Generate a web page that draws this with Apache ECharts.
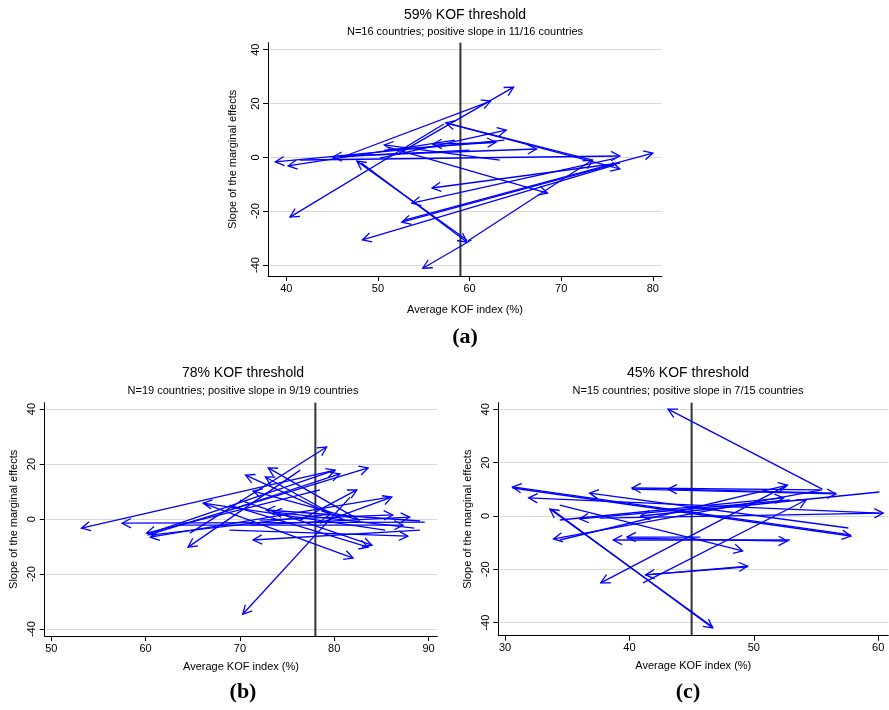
<!DOCTYPE html>
<html><head><meta charset="utf-8">
<script src="https://cdn.jsdelivr.net/npm/echarts@6/dist/echarts.min.js"></script>
<style>html,body{margin:0;padding:0;background:#fff}#c{width:889px;height:710px}</style>
</head><body><div id="c"></div>
<script>
// ---- data ----
const thresholds = [59, 78, 45];
const titles = ['59% KOF threshold', '78% KOF threshold', '45% KOF threshold'];
const subtitles = ['N=16 countries; positive slope in 11/16 countries',
                   'N=19 countries; positive slope in 9/19 countries',
                   'N=15 countries; positive slope in 7/15 countries'];
const panelLabels = ['(a)', '(b)', '(c)'];
const xTicksA = [40, 50, 60, 70, 80];
const xTicksB = [50, 60, 70, 80, 90];
const xTicksC = [30, 40, 50, 60];
const yTicks = [-40, -20, 0, 20, 40];
// arrows: [x start, y start, x end, y end]
const arrowsA = [
  [52.15, 1.2, 64.8, 26.1], [46.4, 0.5, 62.3, 20.9], [50.2, -0.3, 64.0, 10.1],
  [50.7, 2.7, 62.9, 5.7], [45.8, 0.5, 67.3, 3.1], [41.5, -1.0, 76.4, 0.5],
  [52.9, -23.3, 80.0, 1.6], [57.8, 12.4, 76.4, -4.3], [59.8, -31.1, 73.4, -1.0],
  [51.1, 3.8, 68.5, -13.3], [48.2, -2.1, 59.7, -31.5], [60.2, -30.7, 54.9, -41.2],
  [75.8, -2.9, 48.3, -30.7], [76.4, -2.1, 52.6, -24.1], [76.0, -0.3, 53.7, -17.0],
  [76.4, -2.1, 55.9, -11.4], [57.2, 12.4, 40.4, -22.2], [63.8, 6.4, 38.8, -1.7],
  [58.4, 6.4, 40.2, -3.2], [60.0, 2.7, 45.1, 0.1], [59.7, -30.7, 47.7, -1.4],
  [63.3, -1.0, 50.7, 4.6], [62.5, 5.5, 56.0, 4.9], [73.4, -1.0, 57.4, 12.8]
];
const arrowsB = [
  [80.1, 17.8, 53.2, -3.3], [89.6, -1.1, 57.5, -1.5], [78.5, 10.6, 60.1, -5.1],
  [85.9, 8.0, 60.5, -6.6], [76.4, 17.8, 64.5, -10.2], [64.7, -5.1, 79.2, 26.2],
  [81.7, 8.0, 70.3, -34.6], [66.3, 5.5, 82.0, -14.2], [85.4, -4.0, 66.1, 5.8],
  [81.1, -0.4, 70.6, 16.0], [82.7, -0.4, 73.0, 18.6], [79.6, 2.2, 72.7, 15.3],
  [60.5, -5.1, 80.1, 17.8], [60.2, -5.8, 83.6, 18.6], [68.9, 3.3, 80.6, 16.4],
  [76.4, -0.4, 82.4, 10.6], [78.5, -1.5, 86.1, 8.0], [82.7, -0.4, 71.4, 10.2],
  [89.1, -0.7, 72.8, 3.3], [88.5, -3.3, 73.5, 2.6], [72.1, -0.4, 86.2, 1.5],
  [71.1, -2.2, 88.0, 0.7], [63.6, -2.2, 87.3, -2.2], [68.9, -4.0, 87.8, -6.2],
  [89.1, -4.0, 71.4, -7.6], [68.9, 5.1, 83.6, -10.2], [70.0, 6.9, 84.0, -9.5],
  [60.5, -5.8, 79.6, 1.8]
];
const arrowsC = [
  [55.5, 10.1, 43.1, 40.1], [57.8, -7.1, 30.6, 10.9], [30.6, 10.5, 57.8, -7.5],
  [60.1, 1.1, 31.9, 6.8], [33.8, 2.3, 46.7, -42.0], [46.7, -41.6, 33.6, 2.6],
  [57.6, -4.5, 36.8, 8.6], [55.3, 9.8, 40.2, 10.5], [40.2, 10.1, 56.6, 8.3],
  [56.6, 8.6, 43.1, 10.1], [34.4, -9.0, 52.7, 11.6], [34.4, -1.5, 52.4, 6.8],
  [41.1, -25.1, 54.2, 6.0], [52.7, 11.6, 37.7, -25.1], [60.1, 9.0, 40.9, 0.0],
  [52.9, 6.0, 36.0, -1.1], [55.5, 9.8, 33.9, -8.6], [52.9, -9.0, 38.7, -9.0],
  [45.7, -7.9, 39.8, -7.9], [39.8, -8.3, 52.7, -9.4], [34.4, 4.1, 49.1, -13.1],
  [41.3, -22.1, 49.5, -18.8], [49.5, -19.1, 41.3, -22.1], [37.6, -0.8, 60.4, 1.1]
];

// ---- layout / style ----
const FONT = 'Liberation Sans, Arial, sans-serif';
const grids = [
  {left: 268, top: 42.7, width: 394, height: 233.3},
  {left: 44.7, top: 402.7, width: 392.6, height: 233.3},
  {left: 498.3, top: 402.7, width: 390, height: 233}
];
const xRanges = [[38, 81], [49.3, 90.93], [29.46, 60.81]];
const yRanges = [[-44.1, 42.6], [-42.5, 42.3], [-44.9, 42.5]];
const xTickSets = [xTicksA, xTicksB, xTicksC];
const arrowSets = [arrowsA, arrowsB, arrowsC];
const yNameGap = [30, 25, 25];
const xNameGap = [28, 25, 25];

const xAxes = [], yAxes = [], series = [];
for (let i = 0; i < 3; i++) {
  xAxes.push({
    gridIndex: i, type: 'value', min: xRanges[i][0], max: xRanges[i][1],
    axisLine: {show: true, onZero: false, lineStyle: {color: '#000', width: 1}},
    axisTick: {show: true, length: 5, customValues: xTickSets[i], lineStyle: {color: '#000'}},
    axisLabel: {customValues: xTickSets[i], color: '#000', fontSize: 11, fontFamily: FONT, margin: 7},
    splitLine: {show: false},
    name: 'Average KOF index (%)', nameLocation: 'middle', nameGap: xNameGap[i],
    nameTextStyle: {color: '#000', fontSize: 11, fontFamily: FONT}
  });
  yAxes.push({
    gridIndex: i, type: 'value', min: yRanges[i][0], max: yRanges[i][1],
    axisLine: {show: true, onZero: false, lineStyle: {color: '#000', width: 1}},
    axisTick: {show: true, length: 5, customValues: yTicks, lineStyle: {color: '#000'}},
    axisLabel: {customValues: yTicks, color: '#000', fontSize: 11, fontFamily: FONT, margin: 7, rotate: 90},
    splitLine: {show: true, lineStyle: {color: '#d9d9d9', width: 1}},
    name: 'Slope of the marginal effects', nameLocation: 'middle', nameGap: yNameGap[i],
    nameRotate: 90,
    nameTextStyle: {color: '#000', fontSize: 11, fontFamily: FONT}
  });
  series.push({
    type: 'line', xAxisIndex: i, yAxisIndex: i, silent: true, symbol: 'none',
    data: [[thresholds[i], yRanges[i][0]], [thresholds[i], yRanges[i][1]]],
    lineStyle: {color: '#333', width: 2}, z: 2, animation: false
  });
  series.push({
    type: 'custom', xAxisIndex: i, yAxisIndex: i, clip: false, silent: true, z: 3,
    encode: {x: [0, 2], y: [1, 3]},
    data: arrowSets[i],
    renderItem: function (params, api) {
      const p0 = api.coord([api.value(0), api.value(1)]);
      const p1 = api.coord([api.value(2), api.value(3)]);
      const ang = Math.atan2(p1[1] - p0[1], p1[0] - p0[0]);
      const L = 10, a = Math.PI / 6.5;
      const h1 = [p1[0] - L * Math.cos(ang - a), p1[1] - L * Math.sin(ang - a)];
      const h2 = [p1[0] - L * Math.cos(ang + a), p1[1] - L * Math.sin(ang + a)];
      const st = {stroke: '#0000ff', lineWidth: 1.3, fill: null};
      return {type: 'group', children: [
        {type: 'line', shape: {x1: p0[0], y1: p0[1], x2: p1[0], y2: p1[1]}, style: st},
        {type: 'polyline', shape: {points: [h1, p1, h2]}, style: st}
      ]};
    },
    animation: false
  });
}

const titlePos = [[465, 15, 32, 337], [243, 373, 391, 692], [688, 373, 391, 692]];
const graphics = [];
for (let i = 0; i < 3; i++) {
  const p = titlePos[i];
  graphics.push({type: 'text', x: p[0], y: p[1], style: {text: titles[i], font: '14px ' + FONT, fill: '#000', textAlign: 'center', textVerticalAlign: 'middle'}});
  graphics.push({type: 'text', x: p[0], y: p[2], style: {text: subtitles[i], font: '11px ' + FONT, fill: '#000', textAlign: 'center', textVerticalAlign: 'middle'}});
  graphics.push({type: 'text', x: p[0], y: p[3], style: {text: panelLabels[i], font: 'bold 22px Liberation Serif, Times New Roman, serif', fill: '#000', textAlign: 'center', textVerticalAlign: 'middle'}});
}

const chart = echarts.init(document.getElementById('c'), null, {renderer: 'canvas'});
chart.setOption({
  animation: false,
  backgroundColor: '#fff',
  grid: grids,
  xAxis: xAxes,
  yAxis: yAxes,
  series: series,
  graphic: graphics
});
</script>
</body></html>
